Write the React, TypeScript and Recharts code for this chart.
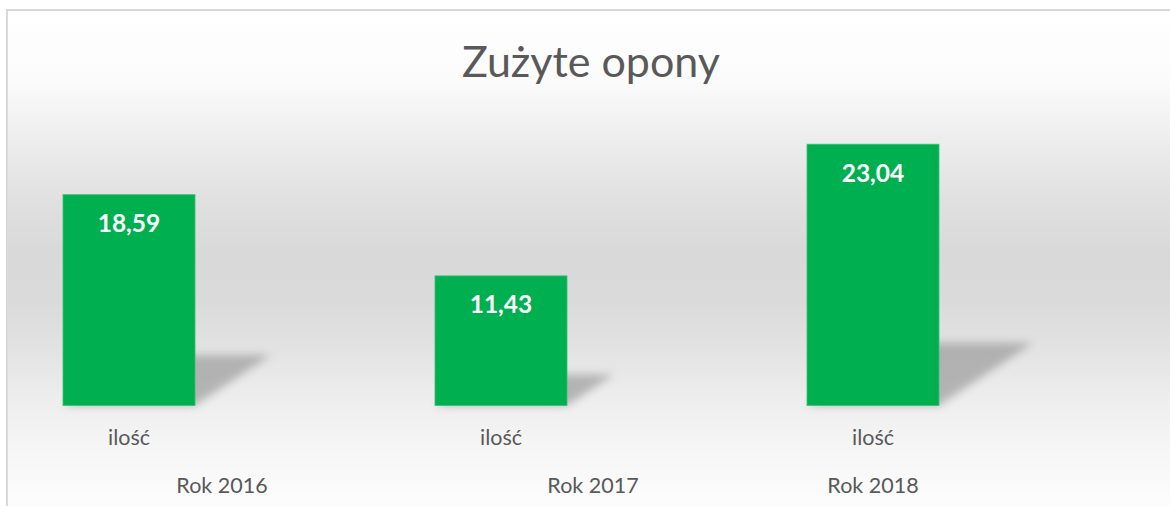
import { BarChart, Bar, XAxis, YAxis, LabelList } from 'recharts'

const years = ['Rok 2016', 'Rok 2017', 'Rok 2018']
const categories = ['ilość', 'ilość', 'ilość']
const values = [18.59, 11.43, 23.04]

// Excel placed the outer (year) labels off-centre; shift in px from the bar centre
const yearLabelShift = [93, 92, 0]

const data = years.map((year, i) => ({
  year,
  category: categories[i],
  value: values[i],
}))

const textGray = '#595959'
const barGreen = '#00b050'

function ShadowBar(props: any) {
  const { x, y, width, height } = props
  const bottom = y + height
  const sh = height * 0.24
  const dx = sh * 1.5
  const points = `${x},${bottom} ${x + width},${bottom} ${x + width + dx},${bottom - sh} ${x + dx},${bottom - sh}`
  return (
    <g>
      <polygon points={points} fill="#8f8f8f" opacity={0.6} filter="url(#shadowBlur)" />
      <rect x={x} y={y} width={width} height={height} fill={barGreen} stroke="#3cbf74" strokeWidth={0.8} />
    </g>
  )
}

function TwoLevelTick(props: any) {
  const { x, y, index } = props
  return (
    <g>
      <text x={x} y={y + 39} textAnchor="middle" fill={textGray} fontSize={21.5} fontFamily="Lato">
        {categories[index]}
      </text>
      <text
        x={x + yearLabelShift[index]}
        y={y + 87}
        textAnchor="middle"
        fill={textGray}
        fontSize={21.5}
        fontFamily="Lato"
      >
        {years[index]}
      </text>
    </g>
  )
}

function ValueLabel(props: any) {
  const { x, y, width, value } = props
  return (
    <text
      x={x + width / 2}
      y={y + 37.5}
      textAnchor="middle"
      fill="#ffffff"
      fontSize={24.5}
      fontWeight="bold"
      fontFamily="Lato"
    >
      {Number(value).toFixed(2).replace('.', ',')}
    </text>
  )
}

export default function App() {
  return (
    <div style={{ position: 'absolute', left: 0, top: 0, width: 1170, height: 506, overflow: 'hidden', background: '#fff' }}>
      <div
        style={{
          position: 'absolute',
          left: 6,
          top: 9,
          width: 1200,
          height: 520,
          borderTop: '2px solid #d9d9d9',
          borderLeft: '2px solid #d9d9d9',
          background:
            'linear-gradient(to bottom, #ffffff 0px, #fbfbfb 70px, #eeeeee 125px, #e0e0e0 190px, #d9d9d9 240px, #dadada 290px, #e3e3e3 340px, #eeeeee 390px, #f6f6f6 440px, #fcfcfc 490px)',
        }}
      />
      <div
        style={{
          position: 'absolute',
          left: 0,
          top: 33,
          width: 1182,
          textAlign: 'center',
          fontFamily: 'Lato',
          fontSize: 43,
          color: textGray,
          lineHeight: '56px',
        }}
      >
        Zużyte opony
      </div>
      <div style={{ position: 'absolute', left: -57, top: 0 }}>
        <BarChart width={1116} height={506} data={data} margin={{ top: 122, right: 0, bottom: 0, left: 0 }}>
          <defs>
            <filter id="shadowBlur" x="-50%" y="-50%" width="200%" height="200%">
              <feGaussianBlur stdDeviation="4" />
            </filter>
          </defs>
          <XAxis
            dataKey="year"
            height={100.5}
            axisLine={false}
            tickLine={false}
            tickSize={0}
            tickMargin={0}
            interval={0}
            tick={<TwoLevelTick />}
          />
          <YAxis hide domain={[0, 25]} />
          <Bar dataKey="value" barSize={132} shape={<ShadowBar />} isAnimationActive={false}>
            <LabelList dataKey="value" content={<ValueLabel />} />
          </Bar>
        </BarChart>
      </div>
    </div>
  )
}
